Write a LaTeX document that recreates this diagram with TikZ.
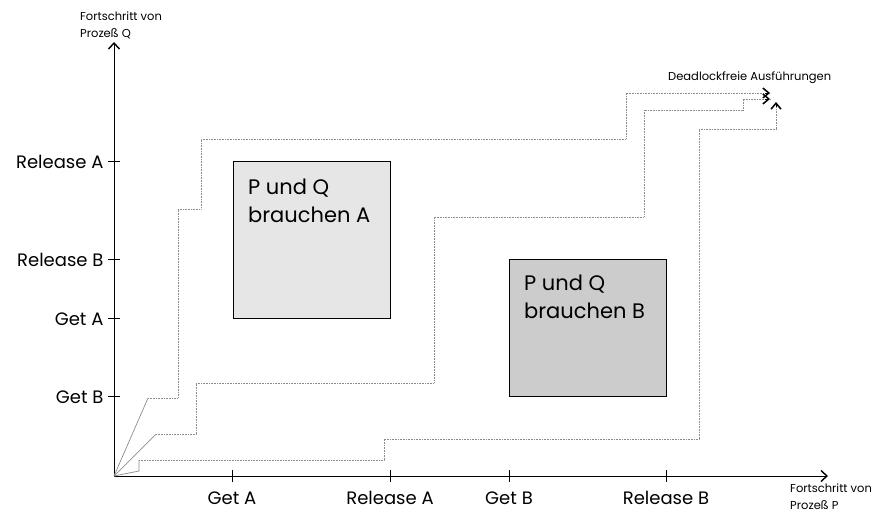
\documentclass[tikz,border=0pt]{standalone}
\usepackage{fontspec}
\setmainfont{Poppins}
\usetikzlibrary{arrows.meta}

\definecolor{boxhell}{HTML}{E6E6E6}
\definecolor{boxdunkel}{HTML}{CCCCCC}
\definecolor{laufgrau}{HTML}{8C8C8C}

\tikzset{
  achse/.style={line width=0.9pt, -{Straight Barb[length=6pt,width=11pt,line width=1.4pt]}},
  lauf/.style={laufgrau, line width=0.8pt, dash pattern=on 0.8pt off 0.8pt},
  start/.style={laufgrau, line width=0.7pt},
  spitze/.style={-{Straight Barb[black,length=6pt,width=10pt,line width=1.5pt]}},
  bereich/.style={draw, line width=0.8pt, anchor=north west, inner sep=0pt},
  bereichtext/.style={anchor=north west, align=left, font=\fontsize{21}{28}\selectfont, inner sep=0pt},
  klein/.style={align=left, font=\fontsize{11.5}{17}\selectfont, inner sep=0pt}
}

\begin{document}
\begin{tikzpicture}[x=1pt, y=-1pt, font=\fontsize{18}{20}\selectfont]
\useasboundingbox (0,0) rectangle (875,516);

\coordinate (O) at (114,476);
\coordinate (xend) at (828,476);
\coordinate (yend) at (114,42);

% Achsen
\draw[achse] (O) -- (xend);
\draw[achse] (O) -- (yend);
\node[klein, anchor=north west] (px) at (790,484) {Fortschritt von\\Prozeß P};
\node[klein, anchor=south west] (qy) at (80,39) {Fortschritt von\\Prozeß Q};

% Marken x
\foreach \x/\lab in {232/Get A, 390/Release A, 509/Get B, 666/Release B} {
    \draw[line width=0.8pt] (\x,470) -- (\x,482);
    \node[anchor=base] at (\x,504) {\lab};
}

% Marken y
\foreach \y/\lab in {161/Release A, 259/Release B, 318/Get A, 396/Get B} {
    \draw[line width=0.8pt] (108,\y) -- (120,\y);
    \node[anchor=base east] at (107,\y+7) {\lab};
}

% kritische Bereiche
\node[bereich, fill=boxhell, minimum width=157pt, minimum height=157pt] (bA) at (233,161) {};
\node[bereichtext] (tA) at ([shift={(15,18)}]bA.north west) {P und Q\\brauchen A};
\node[bereich, fill=boxdunkel, minimum width=157pt, minimum height=137pt] (bB) at (509,259) {};
\node[bereichtext] (tB) at ([shift={(15,16)}]bB.north west) {P und Q\\brauchen B};

% Ausfuehrungen
\coordinate (e1) at (770,93);
\coordinate (e2) at (770,99);
\coordinate (e3) at (776,102);
\node[klein, anchor=south west] (dl) at (668,84) {Deadlockfreie Ausführungen};

\draw[start] (O) -- (148,398);
\draw[lauf] (148,398) -- (178,398) -- (178,209) -- (201,209) -- (201,139) -- (626,139) -- (626,93) -- (e1);
\draw[start] (O) -- (156,434);
\draw[lauf] (156,434) -- (196,434) -- (196,383) -- (434,383) -- (434,217) -- (644,217) -- (644,110) -- (743,110) -- (743,99) -- (e2);
\draw[start] (O) -- (139,471) -- (139,460);
\draw[lauf] (139,460) -- (384,460) -- (384,439) -- (699,439) -- (699,129) -- (776,129) -- (e3);
\draw[spitze] (765,93) -- (e1);
\draw[spitze] (765,99) -- (e2);
\draw[spitze] (776,107) -- (e3);

\end{tikzpicture}
\end{document}
